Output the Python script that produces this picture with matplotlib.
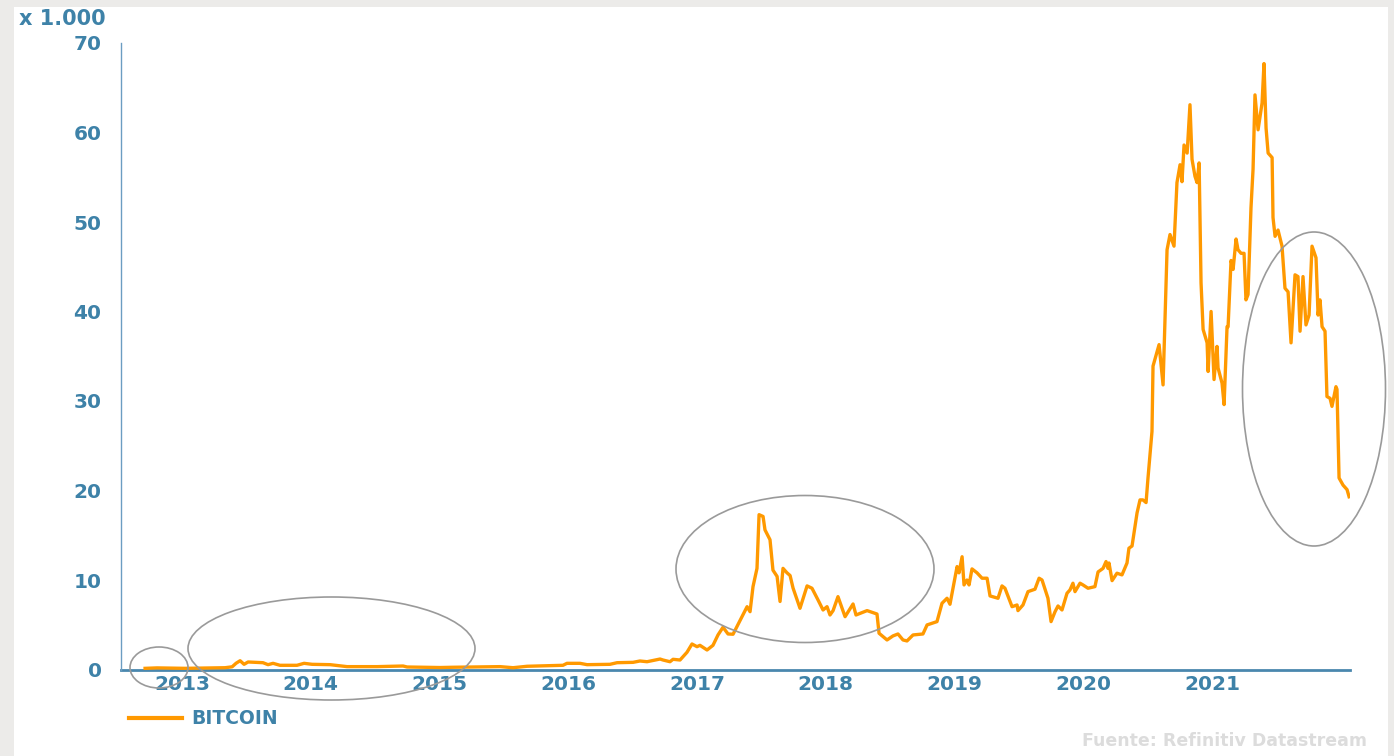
import matplotlib
matplotlib.use("Agg")
import matplotlib.pyplot as plt
from matplotlib.patches import Ellipse, Rectangle
from matplotlib.lines import Line2D

# ---- data (decimal year, price in thousands USD) ----
years = [
    2013.213, 2013.306, 2013.524, 2013.679, 2013.834, 2013.889, 2013.920, 2013.951, 2013.982,
    2014.013, 2014.129, 2014.168, 2014.207, 2014.261, 2014.393, 2014.448, 2014.510, 2014.650,
    2014.782, 2015.015, 2015.217, 2015.248, 2015.504, 2015.605, 2015.970, 2016.071, 2016.180,
    2016.459, 2016.490, 2016.591, 2016.646, 2016.824, 2016.879, 2017.003, 2017.057, 2017.112,
    2017.213, 2017.236, 2017.290, 2017.314, 2017.368, 2017.422, 2017.461, 2017.500, 2017.523,
    2017.578, 2017.624, 2017.663, 2017.702, 2017.741, 2017.780, 2017.834, 2017.889, 2017.912,
    2017.935, 2017.966, 2017.982, 2018.013, 2018.028, 2018.067, 2018.090, 2018.122, 2018.145,
    2018.168, 2018.199, 2018.223, 2018.246, 2018.300, 2018.355, 2018.393, 2018.440, 2018.479,
    2018.510, 2018.533, 2018.557, 2018.595, 2018.650, 2018.712, 2018.735, 2018.821, 2018.898,
    2018.914, 2018.976, 2019.022, 2019.061, 2019.100, 2019.131, 2019.178, 2019.255, 2019.287,
    2019.364, 2019.403, 2019.442, 2019.465, 2019.520, 2019.535, 2019.559, 2019.574, 2019.597,
    2019.613, 2019.636, 2019.675, 2019.714, 2019.753, 2019.776, 2019.838, 2019.869, 2019.892,
    2019.947, 2019.986, 2019.993, 2020.032, 2020.071, 2020.125, 2020.157, 2020.180, 2020.226,
    2020.250, 2020.281, 2020.304, 2020.335, 2020.374, 2020.397, 2020.420, 2020.436, 2020.475,
    2020.498, 2020.537, 2020.591, 2020.615, 2020.654, 2020.677, 2020.692, 2020.700, 2020.724,
    2020.762, 2020.801, 2020.840, 2020.855, 2020.879, 2020.918, 2020.941, 2020.964, 2020.988,
    2021.003, 2021.034, 2021.042, 2021.089, 2021.120, 2021.151, 2021.174, 2021.205, 2021.228,
    2021.252, 2021.267, 2021.283, 2021.307, 2021.329, 2021.345, 2021.368, 2021.384, 2021.400,
    2021.415, 2021.431, 2021.462, 2021.470, 2021.493, 2021.516, 2021.539, 2021.547, 2021.578,
    2021.594, 2021.617, 2021.625, 2021.648, 2021.664, 2021.687, 2021.702, 2021.726, 2021.749,
    2021.764, 2021.780, 2021.803, 2021.819, 2021.834, 2021.858, 2021.889, 2021.904, 2021.920,
    2021.936, 2021.967, 2021.974, 2021.990, 2022.013, 2022.044, 2022.067, 2022.091, 2022.114,
    2022.145, 2022.168, 2022.184, 2022.207, 2022.230, 2022.254, 2022.277, 2022.308, 2022.324,
    2022.339, 2022.355, 2022.378, 2022.393, 2022.417, 2022.432, 2022.463, 2022.471, 2022.487,
    2022.518, 2022.549, 2022.565,
]
btc = [
    0.13, 0.18, 0.13, 0.16, 0.20, 0.30, 0.70, 0.98, 0.58,
    0.84, 0.76, 0.54, 0.69, 0.47, 0.47, 0.69, 0.58, 0.54,
    0.32, 0.32, 0.39, 0.28, 0.22, 0.25, 0.32, 0.20, 0.36,
    0.47, 0.69, 0.69, 0.54, 0.58, 0.76, 0.80, 0.95, 0.87,
    1.17, 1.06, 0.87, 1.14, 1.06, 1.92, 2.85, 2.55, 2.70,
    2.18, 2.70, 3.86, 4.72, 3.97, 3.94, 5.46, 7.02, 6.46,
    9.26, 11.3, 17.3, 17.1, 15.6, 14.5, 11.1, 10.4, 7.6,
    11.3, 10.8, 10.5, 9.1, 6.84, 9.34, 9.08, 7.77, 6.65,
    7.02, 6.09, 6.58, 8.14, 5.90, 7.32, 6.09, 6.58, 6.20,
    4.05, 3.30, 3.75, 3.97, 3.30, 3.19, 3.86, 3.97, 4.98,
    5.35, 7.40, 7.96, 7.29, 11.5, 10.8, 12.6, 9.45, 10.0,
    9.45, 11.24, 10.8, 10.2, 10.2, 8.22, 7.96, 9.34, 9.08,
    7.02, 7.21, 6.58, 7.21, 8.70, 8.97, 10.2, 10.0, 7.96,
    5.35, 6.46, 7.10, 6.65, 8.52, 8.89, 9.64, 8.70, 9.64,
    9.45, 9.08, 9.26, 10.9, 11.3, 12.06, 11.3, 11.9, 9.93,
    10.76, 10.57, 11.9, 13.55, 13.8, 17.5, 18.95, 18.95, 18.65,
    21.4, 26.6, 33.9, 36.3, 31.8, 46.9, 48.6, 47.3, 54.4,
    56.4, 54.5, 58.6, 57.7, 63.1, 57.0, 55.1, 54.4, 56.6,
    43.2, 38.0, 36.5, 33.3, 40.0, 32.4, 36.1, 33.7, 32.0,
    29.6, 38.3, 38.3, 45.7, 44.7, 48.1, 46.9, 46.5, 46.5,
    41.3, 41.9, 51.6, 55.9, 64.2, 60.3, 63.3, 67.7, 60.5,
    57.7, 57.2, 50.5, 48.4, 49.1, 47.3, 42.6, 42.2, 36.5,
    44.1, 43.9, 37.8, 43.9, 38.5, 39.6, 47.3, 46.0, 39.6,
    41.3, 38.3, 37.8, 30.5, 30.3, 29.4, 31.6, 31.3, 21.4,
    20.6, 20.1, 19.3,
]
tick_years = [2013, 2014, 2015, 2016, 2017, 2018, 2019, 2020, 2021]
y_ticks = [0, 10, 20, 30, 40, 50, 60, 70]
series_name = "BITCOIN"

# ---- styles ----
W, H = 1394, 756
TEXT = "#3e82a8"
AXIS = "#4a87ae"
ORANGE = "#ff9900"
plt.rcParams["font.family"] = ["DejaVu Sans"]

fig = plt.figure(figsize=(W / 100, H / 100), dpi=100)
fig.patch.set_facecolor("#ecebe9")
fig.add_artist(Rectangle((14 / W, 0), (1388 - 14) / W, (756 - 7) / H,
                         transform=fig.transFigure, facecolor="white",
                         edgecolor="none", zorder=-10))

ax = fig.add_axes([121 / W, 1 - 669.5 / H, (1350 - 121) / W, (669.5 - 43) / H])
ax.patch.set_alpha(0)
ax.plot(years, btc, color=ORANGE, lw=2.4, solid_joinstyle="round", zorder=3)

ax.set_xlim(2013.026, 2022.572)
ax.set_ylim(0, 70)
ax.set_yticks(y_ticks)
ax.set_yticklabels([str(v) for v in y_ticks])
ax.set_xticks([y + 0.5 for y in tick_years])
ax.set_xticklabels([str(y) for y in tick_years])
ax.tick_params(axis="both", length=0, labelsize=14.5, labelcolor=TEXT)
ax.tick_params(axis="y", pad=14)
ax.tick_params(axis="x", pad=4)
for lab in ax.get_xticklabels() + ax.get_yticklabels():
    lab.set_fontweight("bold")
for s in ("top", "right"):
    ax.spines[s].set_visible(False)
ax.spines["bottom"].set_color(AXIS)
ax.spines["bottom"].set_linewidth(2.0)
ax.spines["bottom"].set_zorder(2)
ax.spines["left"].set_color("#6b9dc2")
ax.spines["left"].set_linewidth(1.0)

fig.text(19 / W, 1 - 19 / H, "x 1.000", ha="left", va="center",
         fontsize=15, fontweight="bold", color=TEXT)

handle = Line2D([], [], color=ORANGE, lw=3.0)
fig.legend(handles=[handle], labels=[series_name], loc="center left",
           bbox_to_anchor=(129 / W, 1 - 719 / H), frameon=False,
           borderpad=0, borderaxespad=0, handlelength=2.8, handletextpad=0.5,
           prop={"size": 13.5, "weight": "bold"}, labelcolor=TEXT)

fig.text(1367 / W, 1 - 741 / H, "Fuente: Refinitiv Datastream", ha="right",
         va="center", fontsize=12.5, fontweight="bold", color="#dcdcdc")

# annotation ellipses (pixel centre, width, height)
ellipses = [(159, 667.5, 58, 41), (331.5, 648.5, 287, 103),
            (805, 569, 258, 147), (1314, 389, 143, 314)]
for cx, cy, w, h in ellipses:
    fig.add_artist(Ellipse((cx / W, 1 - cy / H), w / W, h / H,
                           transform=fig.transFigure, fill=False,
                           edgecolor="#9a9a9a", lw=1.2, zorder=5))

fig.savefig("out.png", dpi=100)
